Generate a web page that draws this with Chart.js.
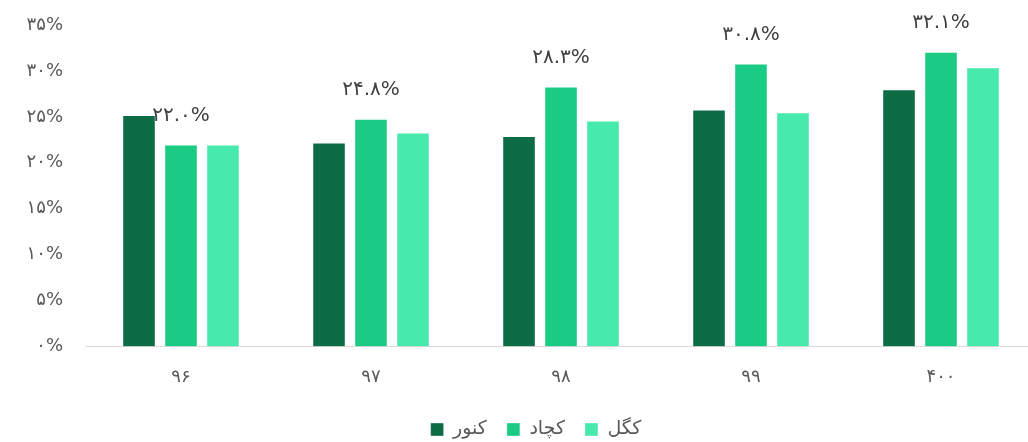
<!DOCTYPE html>
<html>
<head>
<meta charset="utf-8">
<script src="https://cdn.jsdelivr.net/npm/chart.js@4/dist/chart.umd.min.js"></script>
<style>
  html, body { margin: 0; padding: 0; background: #fff; overflow: hidden; }
  #wrap { position: relative; width: 1038px; height: 442px; }
</style>
</head>
<body>
<div id="wrap"><canvas id="barChart"></canvas></div>
<script>
// داده‌های نمودار
const categories = ['۹۶', '۹۷', '۹۸', '۹۹', '۴۰۰'];
const seriesNames = ['کنور', 'کچاد', 'کگل'];
const kanorValues = [25.2, 22.2, 22.9, 25.8, 28.0];
const kachadValues = [22.0, 24.8, 28.3, 30.8, 32.1];
const kagolValues = [22.0, 23.3, 24.6, 25.5, 30.4];
const kachadLabels = ['۲۲.۰%', '۲۴.۸%', '۲۸.۳%', '۳۰.۸%', '۳۲.۱%'];
const yTickLabels = ['۰%', '۵%', '۱۰%', '۱۵%', '۲۰%', '۲۵%', '۳۰%', '۳۵%'];

const fontFamily = '"DejaVu Sans", sans-serif';

// برچسب مقدار بالای ستون‌های کچاد
const valueLabels = {
    id: 'valueLabels',
    afterDatasetsDraw(chart) {
        const ctx = chart.ctx;
        const meta = chart.getDatasetMeta(1);
        ctx.save();
        ctx.font = '20px ' + fontFamily;
        ctx.fillStyle = '#404040';
        ctx.textAlign = 'center';
        ctx.textBaseline = 'middle';
        meta.data.forEach((bar, i) => {
            ctx.fillText(kachadLabels[i], bar.x, bar.y - 29);
        });
        ctx.restore();
    }
};

// جابه‌جایی راهنما به زیر وسط ناحیه نمودار
const legendShift = {
    id: 'legendShift',
    afterLayout(chart) {
        const lg = chart.legend;
        if (lg) {
            lg.left += 18;
            lg.right += 18;
            lg.top += 7;
            lg.bottom += 7;
        }
    }
};

const ctx = document.getElementById('barChart').getContext('2d');
const barChart = new Chart(ctx, {
    type: 'bar',
    data: {
        labels: categories,
        datasets: [
            {
                label: seriesNames[0],
                data: kanorValues,
                backgroundColor: '#0d6b46',
                borderColor: 'rgba(255,255,255,0.35)',
                borderWidth: 1
            },
            {
                label: seriesNames[1],
                data: kachadValues,
                backgroundColor: '#1bcb84',
                borderColor: 'rgba(255,255,255,0.35)',
                borderWidth: 1
            },
            {
                label: seriesNames[2],
                data: kagolValues,
                backgroundColor: '#48e9ac',
                borderColor: 'rgba(255,255,255,0.35)',
                borderWidth: 1
            }
        ]
    },
    options: {
        responsive: true,
        maintainAspectRatio: false,
        animation: false,
        layout: {
            padding: { left: 0, right: 2, top: 25, bottom: 0 }
        },
        datasets: {
            bar: {
                categoryPercentage: 0.663,
                barPercentage: 0.8
            }
        },
        plugins: {
            legend: {
                position: 'bottom',
                labels: {
                    boxWidth: 13,
                    boxHeight: 13,
                    padding: 20,
                    color: '#595959',
                    font: { family: fontFamily, size: 19 }
                }
            },
            tooltip: { enabled: false }
        },
        scales: {
            x: {
                afterFit(scale) { scale.height -= 15; },
                grid: { display: false, drawTicks: false },
                border: { display: true, color: '#d9d9d9', width: 1 },
                ticks: {
                    color: '#595959',
                    padding: 20,
                    font: { family: fontFamily, size: 18 }
                }
            },
            y: {
                min: 0,
                max: 35,
                afterFit(scale) {
                    scale.width = 86;
                    scale.paddingTop = 0;
                    scale.paddingBottom = 0;
                },
                grid: { display: false, drawTicks: false },
                border: { display: false },
                ticks: {
                    stepSize: 5,
                    color: '#595959',
                    padding: 23,
                    font: { family: fontFamily, size: 18 },
                    callback: (value) => yTickLabels[Math.round(value / 5)]
                }
            }
        }
    },
    plugins: [valueLabels, legendShift]
});
</script>
</body>
</html>
